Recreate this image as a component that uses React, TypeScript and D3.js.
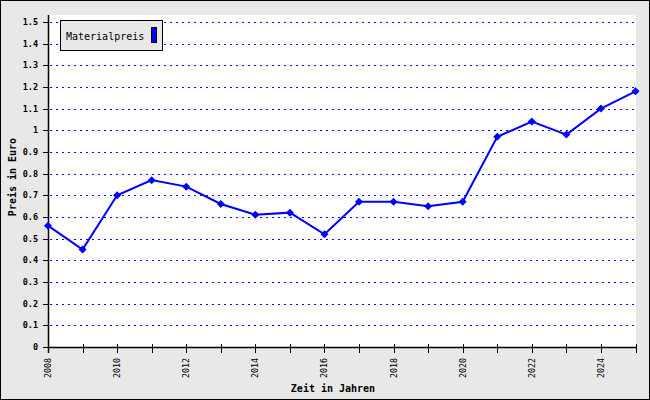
import React from "react";
import * as d3 from "d3";

const years = [2008, 2009, 2010, 2011, 2012, 2013, 2014, 2015, 2016, 2017, 2018, 2019, 2020, 2021, 2022, 2023, 2024, 2025];
const prices = [0.56, 0.45, 0.70, 0.77, 0.74, 0.66, 0.61, 0.62, 0.52, 0.67, 0.67, 0.65, 0.67, 0.97, 1.04, 0.98, 1.10, 1.18];
const yTicks = [0, 0.1, 0.2, 0.3, 0.4, 0.5, 0.6, 0.7, 0.8, 0.9, 1, 1.1, 1.2, 1.3, 1.4, 1.5];
const xLabelYears = [2008, 2010, 2012, 2014, 2016, 2018, 2020, 2022, 2024];
const seriesName = "Materialpreis";
const xTitle = "Zeit in Jahren";
const yTitle = "Preis in Euro";

const W = 650, H = 400;
const L = 48, R = 635.5, T = 15, B = 347;
const FONT = "'DejaVu Sans Mono', monospace";

export default function App() {
  React.useEffect(() => { document.body.style.margin = "0"; }, []);
  const x = d3.scaleLinear().domain([2008, 2025]).range([L, R]);
  const y = d3.scaleLinear().domain([0, 1.532]).range([B, T]);
  const line = d3.line<number>().x((_, i) => x(years[i])).y(d => y(d));
  const fmt = (v: number) => (v === 0 ? "0" : v === 1 ? "1" : d3.format(".1f")(v));
  return (
    <svg width={W} height={H} style={{ display: "block", position: "absolute", left: 0, top: 0 }}>
      <rect x={0.5} y={0.5} width={W - 1} height={H - 1} fill="#e8e8e8" stroke="#000" />
      <rect x={L} y={T} width={R - L + 0.5} height={B - T} fill="#fff" />
      {yTicks.slice(1).map(t => (
        <line key={"g" + t} x1={L + 2} x2={R} y1={Math.round(y(t)) + 0.5} y2={Math.round(y(t)) + 0.5}
          stroke="#0000ff" strokeWidth={1} strokeDasharray="2,4" />
      ))}
      {yTicks.map(t => (
        <g key={"yt" + t}>
          <line x1={L - 5} x2={L} y1={Math.round(y(t)) + 0.5} y2={Math.round(y(t)) + 0.5} stroke="#000" />
          <text x={38} y={y(t) + 3} textAnchor="end" fontFamily={FONT} fontSize={8.5} fontWeight="bold">{fmt(t)}</text>
        </g>
      ))}
      {years.map(yr => (
        <line key={"xt" + yr} x1={Math.round(x(yr)) + 0.5} x2={Math.round(x(yr)) + 0.5} y1={B - 3} y2={B + 6} stroke="#000" />
      ))}
      {xLabelYears.map(yr => (
        <text key={"xl" + yr} transform={`translate(${x(yr) + 3},${358}) rotate(-90)`} textAnchor="end"
          fontFamily={FONT} fontSize={8.3}>{yr}</text>
      ))}
      <line x1={L + 0.5} x2={L + 0.5} y1={T} y2={B + 6} stroke="#000" strokeWidth={1.5} />
      <line x1={L} x2={R + 0.5} y1={B + 0.5} y2={B + 0.5} stroke="#000" strokeWidth={1.5} />
      <path d={line(prices) || ""} fill="none" stroke="#0000ff" strokeWidth={2} />
      {prices.map((p, i) => {
        const cx = x(years[i]), cy = y(p);
        return <path key={"m" + i} d={`M${cx},${cy - 4}L${cx + 4},${cy}L${cx},${cy + 4}L${cx - 4},${cy}Z`} fill="#0000ff" />;
      })}
      <text x={333} y={392} textAnchor="middle" fontFamily={FONT} fontSize={10} fontWeight="bold">{xTitle}</text>
      <text transform={`translate(16,177) rotate(-90)`} textAnchor="middle" fontFamily={FONT} fontSize={10} fontWeight="bold">{yTitle}</text>
      <rect x={60.5} y={20.5} width={102} height={30} fill="#e8e8e8" stroke="#000" />
      <text x={66} y={40} fontFamily={FONT} fontSize={10}>{seriesName}</text>
      <rect x={151.5} y={27.5} width={5} height={15} fill="#0000ff" stroke="#000" />
    </svg>
  );
}
